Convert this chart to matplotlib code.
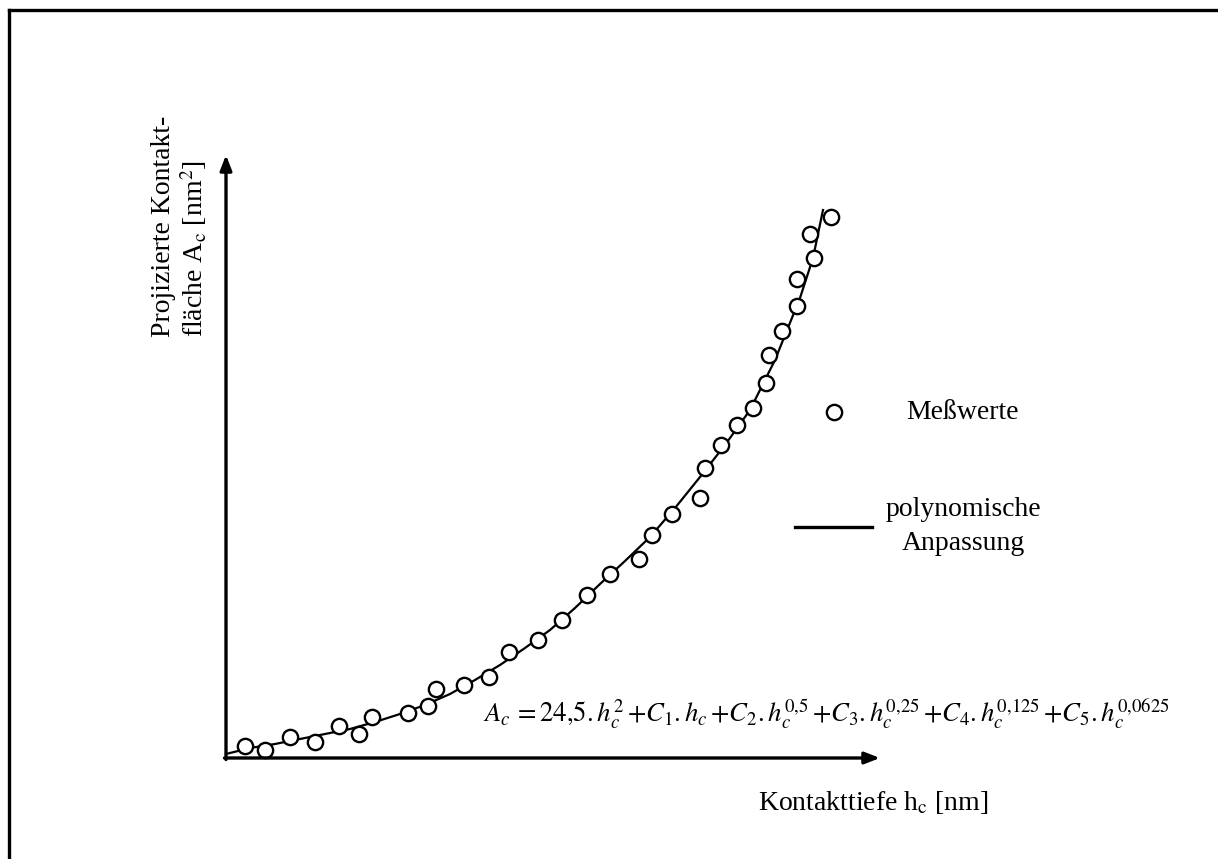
import numpy as np
import matplotlib.pyplot as plt
from matplotlib.lines import Line2D

plt.rcParams['font.family'] = 'Liberation Serif'
plt.rcParams['mathtext.fontset'] = 'stix'

# Messwerte: Kontakttiefe h_c [nm] und projizierte Kontaktflaeche A_c [1e4 nm^2]
h_mess = [19, 39, 64, 89, 113, 133, 146, 182, 202, 210, 238, 263, 283, 312, 336, 361, 384,
          413, 426, 446, 474, 479, 495, 511, 527, 540, 543, 556, 571, 571, 588, 584, 605]
A_mess = [12, 8, 21, 16, 32, 24, 41, 45, 52, 69, 73, 81, 106, 118, 138, 163, 184,
          199, 223, 244, 260, 290, 313, 333, 350, 375, 403, 427, 452, 479, 500, 524, 541]

# polynomische Anpassung
h_fit = [0, 24, 49, 74, 99, 124, 149, 174, 199, 224, 249, 274, 299, 324, 349, 374, 399,
         424, 449, 474, 499, 524, 549, 574, 587, 597]
A_fit = [4, 10, 14, 19, 24, 29, 36, 44, 53, 64, 78, 93, 110, 128, 150, 174, 197,
         221, 250, 281, 313, 348, 398, 460, 500, 548]

W, H = 1218, 859
fig = plt.figure(figsize=(W / 100, H / 100), dpi=100)


def fx(px):
    return px / W


def fy(py):
    return 1 - py / H


# Achsen: Ursprung bei (226, 758) px, Pfeilspitzen bei x=880 und y=155
x0, y0, x1, y1 = 226, 758, 880, 155
ax = fig.add_axes([fx(x0), fy(y0), fx(x1) - fx(x0), fy(y1) - fy(y0)])
ax.set_xlim(0, x1 - x0)
ax.set_ylim(0, y0 - y1)
ax.axis('off')

arrow = dict(arrowstyle='-|>,head_length=0.9,head_width=0.35', lw=2.4, color='black',
             shrinkA=0, shrinkB=0)
ax.annotate('', xy=(x1 - x0, 0), xytext=(-1.5, 0), arrowprops=arrow, annotation_clip=False)
ax.annotate('', xy=(0, y0 - y1), xytext=(0, -1.5), arrowprops=arrow, annotation_clip=False)

ax.plot(h_fit, A_fit, color='black', lw=1.6, clip_on=False)
ax.plot(h_mess, A_mess, 'o', mfc='white', mec='black', ms=11, mew=1.7, clip_on=False)

# Rahmen oben und links
fig.add_artist(Line2D([fx(9), 1], [fy(10), fy(10)], color='black', lw=2.4))
fig.add_artist(Line2D([fx(9), fx(9)], [fy(10), 0], color='black', lw=2.4))

fs = 20
fig.text(fx(163), fy(337), 'Projizierte Kontakt-', rotation=90, ha='center', va='bottom', fontsize=fs)
fig.text(fx(194), fy(337), 'fläche A$_\\mathrm{c}$ [nm$^2$]', rotation=90, ha='center', va='bottom', fontsize=fs)
fig.text(fx(873), fy(803), 'Kontakttiefe h$_\\mathrm{c}$ [nm]', ha='center', va='center', fontsize=fs)

# Legende
fig.add_artist(Line2D([fx(834)], [fy(412)], marker='o', mfc='white', mec='black', ms=11, mew=1.7))
fig.text(fx(962), fy(412), 'Meßwerte', ha='center', va='center', fontsize=fs)
fig.add_artist(Line2D([fx(795), fx(872)], [fy(527), fy(527)], color='black', lw=2.4))
fig.text(fx(963), fy(510), 'polynomische', ha='center', va='center', fontsize=fs)
fig.text(fx(963), fy(543), 'Anpassung', ha='center', va='center', fontsize=fs)

# Formel (eng gesetzt wie im Original)
formel = (r'$A_c\,{=}24{,}5{.}h_c^2\,{+}C_1{.}h_c\,{+}C_2{.}h_c^{0{,}5}\,{+}C_3{.}h_c^{0{,}25}'
          r'\,{+}C_4{.}h_c^{0{,}125}\,{+}C_5{.}h_c^{0{,}0625}$')
fig.text(fx(483), fy(714), formel, ha='left', va='center', fontsize=19.3)

fig.savefig('out.png', dpi=100)
